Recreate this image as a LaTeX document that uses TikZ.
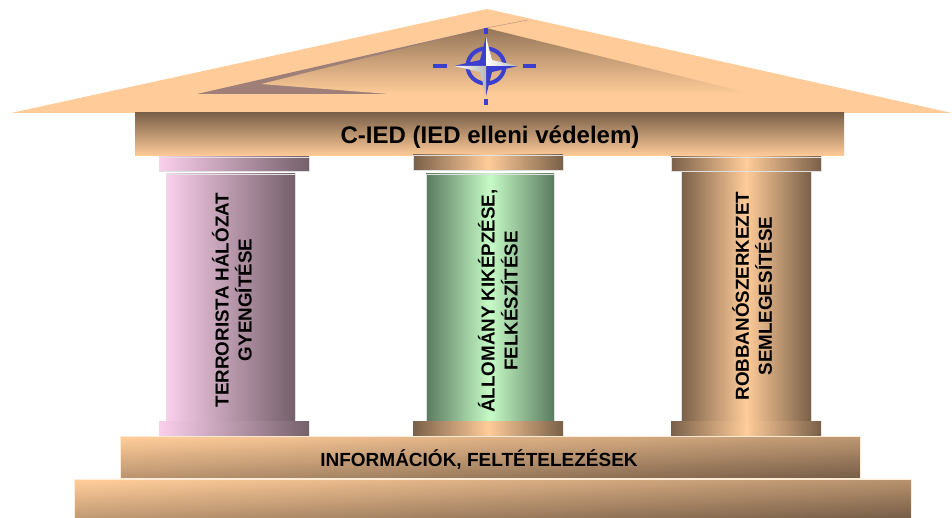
\documentclass[tikz,border=0pt]{standalone}
\usepackage{fontspec}
\setmainfont{Liberation Sans}
\definecolor{peach}{HTML}{FFCC99}
\definecolor{umber}{HTML}{7A6049}
\definecolor{rose}{HTML}{FBCFEC}
\definecolor{plum}{HTML}{75606B}
\definecolor{mint}{HTML}{C6FBC6}
\definecolor{moss}{HTML}{5A7A60}
\definecolor{emblem}{HTML}{3A3FD0}
\tikzset{
	pink part/.style={left color=rose, right color=plum},
	green part/.style={left color=moss, right color=moss, middle color=mint},
	brown part/.style={left color=umber, right color=umber, middle color=peach},
	pillar edge/.style={draw=gray!25, line width=0.6pt},
	step part/.style={top color=peach, bottom color=umber, shading angle=3, draw=peach!40!white, line width=0.6pt},
	pillar text/.style={rotate=90, font=\bfseries\fontsize{18.8}{23}\selectfont, align=center, inner sep=0pt},
	emblem dash/.style={emblem, line width=3.5pt},
	star light/.style={left color=white, right color=gray!55},
}
\begin{document}
\begin{tikzpicture}[x=1pt, y=-1pt]
	\useasboundingbox (0,0) rectangle (952,518);
	% roof
	\fill[peach] (11,113) -- (487,9) -- (952,113) -- cycle;
	\fill[fill=plum!70!peach] (197,94) -- (486,28) -- (389,94) -- cycle;
	\shade[top color=umber!80!peach, bottom color=peach] (261,84) -- (486,28) -- (753,94) -- (389,94) -- cycle;
	\draw[plum!45!peach, line width=0.6pt] (486,28) -- (528,20);
	% emblem
	\draw[emblem, line width=4pt] (486,66) ellipse (18.5 and 17.5);
	\draw[emblem dash] (433,66) -- (447,66);
	\draw[emblem dash] (523,66) -- (536,66);
	\draw[emblem dash] (486,28) -- (486,34);
	\draw[emblem dash] (486,99) -- (486,105);
	\fill[emblem] (486,66) -- (486,37) -- (480,60) -- (454,66) -- cycle;
	\fill[emblem] (486,66) -- (518,66) -- (492,72) -- (486,96) -- cycle;
	\shade[star light] (486,66) -- (486,37) -- (492,60) -- (518,66) -- cycle;
	\shade[star light] (486,66) -- (454,66) -- (480,72) -- (486,96) -- cycle;
	% beam
	\shade[top color=umber, bottom color=peach] (135,113) rectangle (844,156);
	\node[font=\bfseries\fontsize{24}{28}\selectfont] (beamlabel) at (490,137) {C-IED (IED elleni védelem)};
	% left pillar
	\shadedraw[pink part, pillar edge] (159,157) rectangle (309,171);
	\shadedraw[pink part, pillar edge] (166,174) rectangle (295,421);
	\shade[pink part] (159,421) rectangle (309,436);
	\node[pillar text] (leftlabel) at (232,300) {TERRORISTA HÁLÓZAT\\GYENGÍTÉSE};
	% middle pillar
	\shadedraw[brown part, pillar edge] (413,155) rectangle (563,170);
	\shadedraw[green part, pillar edge] (426,174) rectangle (554,421);
	\shade[brown part] (413,421) rectangle (563,436);
	\node[pillar text] (middlelabel) at (498,301) {ÁLLOMÁNY KIKÉPZÉSE,\\FELKÉSZÍTÉSE};
	% right pillar
	\shadedraw[brown part, pillar edge] (681,171) rectangle (811,421);
	\shadedraw[brown part, pillar edge] (671,157) rectangle (821,171);
	\shade[brown part] (671,421) rectangle (821,436);
	\node[pillar text] (rightlabel) at (752,296) {ROBBANÓSZERKEZET\\SEMLEGESÍTÉSE};
	% steps
	\shadedraw[step part] (120,436) rectangle (860,478);
	\node[font=\bfseries\fontsize{19}{23}\selectfont] (steplabel) at (479,460) {INFORMÁCIÓK, FELTÉTELEZÉSEK};
	\shadedraw[step part] (74,479) rectangle (911,518);
\end{tikzpicture}
\end{document}
